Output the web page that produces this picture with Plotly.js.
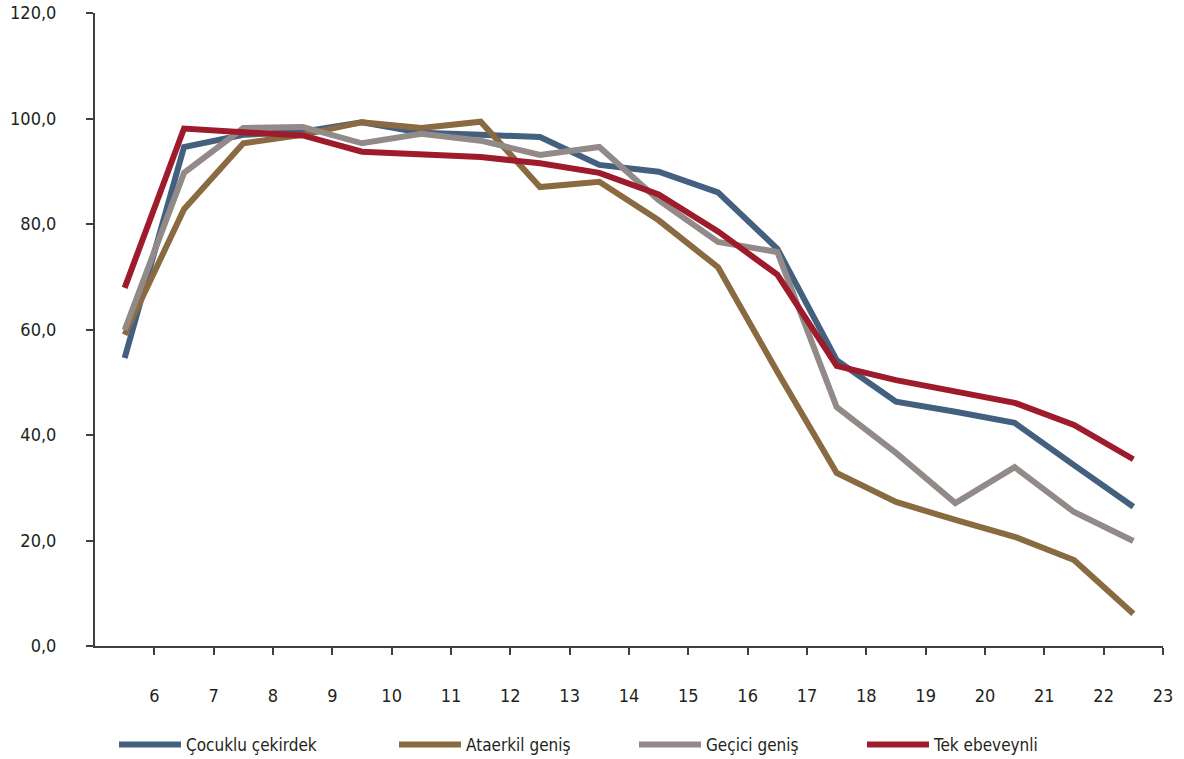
<!DOCTYPE html>
<html>
<head>
<meta charset="utf-8">
<script src="https://cdn.plot.ly/plotly-3.0.1.min.js"></script>
<style>
  html, body { margin: 0; padding: 0; background: #ffffff; }
  #chart { width: 1184px; height: 759px; }
</style>
</head>
<body>
<div id="chart"></div>
<script>
// Tick labels (ages), placed at the category boundaries as in the original
const ageLabels = ['6','7','8','9','10','11','12','13','14','15','16','17','18','19','20','21','22','23'];

// Series names
const seriesNames = ['Çocuklu çekirdek', 'Ataerkil geniş', 'Geçici geniş', 'Tek ebeveynli'];

// Series values
const cocukluCekirdek = [54.6, 94.6, 96.9, 97.5, 99.3, 97.3, 96.9, 96.5, 91.2, 89.9, 86.0, 75.3, 54.2, 46.3, 44.4, 42.3, 34.3, 26.4];
const ataerkilGenis   = [59.0, 82.8, 95.3, 96.9, 99.3, 98.2, 99.4, 87.0, 88.0, 80.7, 71.8, 52.0, 32.8, 27.3, 23.9, 20.7, 16.3, 6.1];
const geciciGenis     = [59.9, 89.7, 98.2, 98.4, 95.3, 97.1, 95.8, 93.1, 94.6, 84.5, 76.6, 74.7, 45.3, 36.6, 27.1, 33.9, 25.4, 19.9];
const tekEbeveynli    = [67.9, 98.1, 97.4, 96.8, 93.7, 93.2, 92.7, 91.5, 89.7, 85.6, 78.6, 70.4, 53.1, 50.4, 48.3, 46.1, 41.9, 35.4];

const colors = ['#44607F', '#8A6A40', '#928A88', '#9E1B2B'];

const FONT = 'Liberation Sans Narrow, DejaVu Sans Condensed, Arial Narrow, sans-serif';
const TXT = '#231F20';
const AX = '#3F3F3F';

const allSeries = [cocukluCekirdek, ataerkilGenis, geciciGenis, tekEbeveynli];
const legendIds = ['legend', 'legend2', 'legend3', 'legend4'];

const traces = allSeries.map((vals, k) => ({
  type: 'scatter',
  mode: 'lines',
  name: seriesNames[k],
  x: vals.map((v, i) => i),
  y: vals,
  line: { color: colors[k], width: 6 },
  legend: legendIds[k],
  hoverinfo: 'x+y+name'
}));

const tickPositions = ageLabels.map((t, i) => i + 0.5);

function legendAt(px) {
  return {
    xref: 'container',
    yref: 'container',
    x: px / 1184,
    xanchor: 'left',
    y: (759 - 745) / 759,
    yanchor: 'middle',
    orientation: 'h',
    bgcolor: 'rgba(0,0,0,0)',
    font: { family: FONT, size: 17, color: TXT },
    itemwidth: 62,
    itemclick: false,
    itemdoubleclick: false
  };
}

const layout = {
  width: 1184,
  height: 759,
  margin: { l: 95, r: 21, t: 13, b: 113, autoexpand: false },
  paper_bgcolor: '#ffffff',
  plot_bgcolor: '#ffffff',
  separators: ',.',
  font: { family: FONT, size: 18, color: TXT },
  showlegend: true,
  xaxis: {
    range: [-0.5, 17.5],
    tickmode: 'array',
    tickvals: tickPositions,
    ticktext: ageLabels,
    showgrid: false,
    zeroline: false,
    showline: true,
    linecolor: AX,
    linewidth: 2,
    ticks: 'outside',
    ticklen: 7,
    tickwidth: 2,
    tickcolor: AX,
    ticklabelstandoff: 25,
    tickfont: { family: FONT, size: 18, color: TXT },
    fixedrange: true
  },
  yaxis: {
    range: [0, 120],
    tick0: 0,
    dtick: 20,
    tickformat: '.1f',
    showgrid: false,
    zeroline: false,
    showline: true,
    linecolor: AX,
    linewidth: 2,
    ticks: 'outside',
    ticklen: 7,
    tickwidth: 2,
    tickcolor: AX,
    ticklabelstandoff: 26,
    tickfont: { family: FONT, size: 18, color: TXT },
    fixedrange: true
  },
  legend: legendAt(114),
  legend2: legendAt(394),
  legend3: legendAt(634),
  legend4: legendAt(862)
};

Plotly.newPlot('chart', traces, layout, { displayModeBar: false });
</script>
</body>
</html>
